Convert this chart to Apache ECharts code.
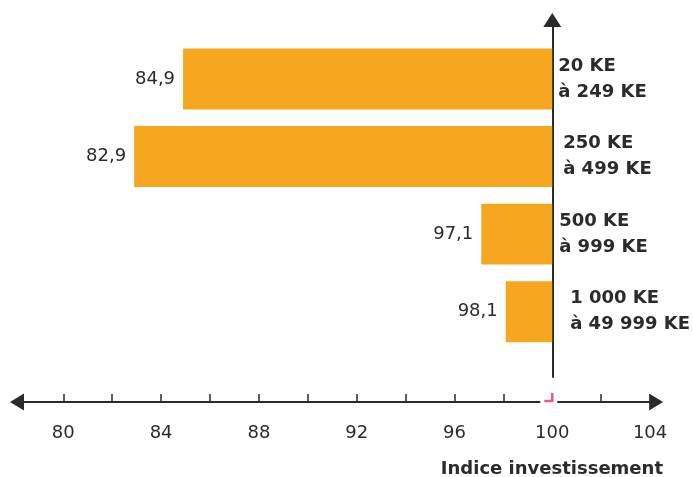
<!DOCTYPE html>
<html>
<head>
<meta charset="utf-8">
<script src="https://cdn.jsdelivr.net/npm/echarts@6/dist/echarts.min.js"></script>
<style>
html,body{margin:0;padding:0;background:#fff;}
#chart{width:693px;height:477px;}
</style>
</head>
<body>
<div id="chart"></div>
<script>
// ---- data ----
const categories = ['20 KE\nà 249 KE', '250 KE\nà 499 KE', '500 KE\nà 999 KE', '1 000 KE\nà 49 999 KE'];
const values = [84.9, 82.9, 97.1, 98.1];
const baseValue = 100;
const tickValues = [80, 82, 84, 86, 88, 90, 92, 94, 96, 98, 102];
const tickLabels = [80, 84, 88, 92, 96, 100, 104];
const axisTitle = 'Indice investissement';

// ---- styling ----
const TEXT = '#2b2b2b';
const LINE = '#2b2b2b';
const BAR = '#F6A61F';
const PINK = '#E8588A';
const FONT = '"DejaVu Sans", sans-serif';
const labelIndent = [0, 5, 1, 12];
const fmt = v => v.toFixed(1).replace('.', ',');

const chart = echarts.init(document.getElementById('chart'), null, {renderer: 'canvas'});

const option = {
  animation: false,
  backgroundColor: '#fff',
  grid: [
    {left: 14.4, right: 140.7, top: 40.2, bottom: 126.5},   // bars
    {left: 14.4, right: 42.9, top: 300, bottom: 75},        // bottom axis
    {left: 14.4, right: 140.7, top: 20, bottom: 100}        // vertical axis
  ],
  xAxis: [
    {gridIndex: 0, type: 'value', min: 78, max: 100, show: false},
    {
      gridIndex: 1, type: 'value', min: 78, max: 104, interval: 2,
      axisLine: {show: true, lineStyle: {color: LINE, width: 2},
        symbol: ['triangle', 'triangle'], symbolSize: [17, 14], symbolOffset: [2.6, 6]},
      axisTick: {show: true, inside: true, length: 8, customValues: tickValues,
        lineStyle: {color: LINE, width: 1.5}},
      axisLabel: {show: true, customValues: tickLabels, margin: 22,
        color: TEXT, fontFamily: FONT, fontSize: 18},
      splitLine: {show: false}
    },
    {gridIndex: 2, type: 'value', min: 78, max: 100, show: false}
  ],
  yAxis: [
    {
      gridIndex: 0, type: 'category', inverse: true, position: 'right',
      data: categories.map((c, i) => ({value: c, textStyle: {padding: [0, 0, 0, labelIndent[i]]}})),
      axisLine: {show: false}, axisTick: {show: false}, splitLine: {show: false},
      axisLabel: {show: true, margin: 6, align: 'left', color: TEXT, fontFamily: FONT,
        fontWeight: 'bold', fontSize: 18, lineHeight: 26}
    },
    {gridIndex: 1, type: 'value', min: 0, max: 1, show: false},
    {
      gridIndex: 2, type: 'value', min: 0, max: 1, position: 'right',
      axisLine: {show: true, lineStyle: {color: LINE, width: 2},
        symbol: ['none', 'triangle'], symbolSize: [18, 14]},
      axisTick: {show: false}, axisLabel: {show: false}, splitLine: {show: false}
    }
  ],
  title: {
    text: axisTitle, right: 30, top: 460, padding: 0,
    textStyle: {color: TEXT, fontFamily: FONT, fontWeight: 'bold', fontSize: 18}
  },
  series: [
    {
      type: 'custom',
      xAxisIndex: 0, yAxisIndex: 0,
      data: values.map((v, i) => [v, i]),
      renderItem: function (params, api) {
        const v = api.value(0);
        const idx = api.value(1);
        const start = api.coord([v, idx]);
        const end = api.coord([baseValue, idx]);
        const h = api.size([0, 1])[1] * 0.786;
        return {
          type: 'group',
          children: [
            {type: 'rect', shape: {x: start[0], y: start[1] - h / 2, width: end[0] - start[0], height: h},
              style: {fill: BAR}},
            {type: 'text', x: start[0] - 8, y: start[1],
              style: {text: fmt(v), fill: TEXT, font: '18px ' + FONT, align: 'right', verticalAlign: 'middle'}}
          ]
        };
      }
    },
    {
      type: 'custom',
      xAxisIndex: 1, yAxisIndex: 1,
      data: [[baseValue, 0]],
      z: 5,
      renderItem: function (params, api) {
        const p = api.coord([api.value(0), api.value(1)]);
        return {
          type: 'group',
          children: [
            {type: 'rect', shape: {x: p[0] - 12, y: p[1] - 3, width: 17, height: 6}, style: {fill: '#fff'}},
            {type: 'polyline', shape: {points: [[p[0] - 8, p[1] - 1], [p[0], p[1] - 1], [p[0], p[1] - 9]]},
              style: {stroke: PINK, lineWidth: 2.5, fill: null}}
          ]
        };
      }
    }
  ]
};
chart.setOption(option);
</script>
</body>
</html>
